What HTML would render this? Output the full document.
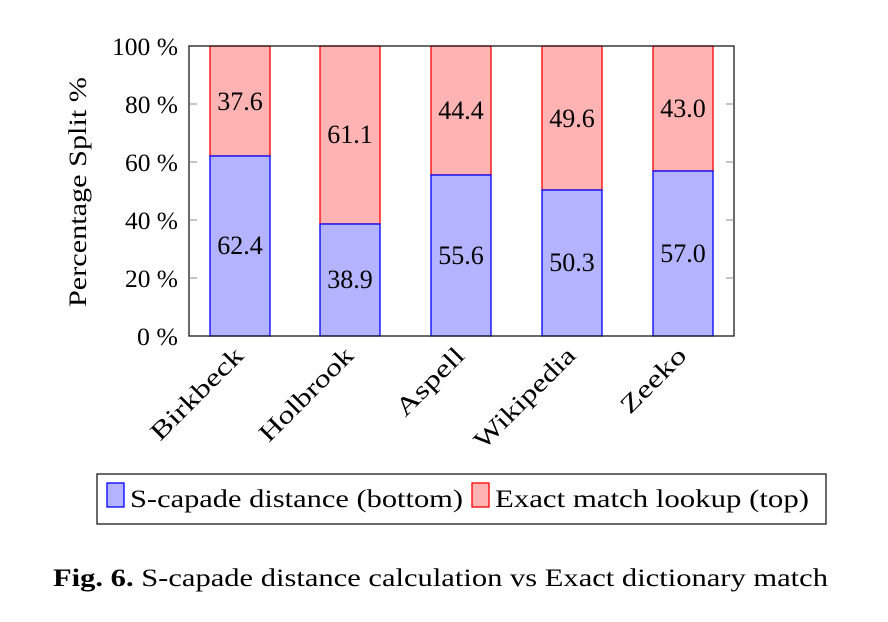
<!DOCTYPE html>
<html><head><style>body{margin:0;background:#fff}svg{display:block}text{font-family:"Liberation Serif",serif;fill:#000}</style></head><body>
<svg width="888" height="622" viewBox="0 0 888 622" xmlns="http://www.w3.org/2000/svg">
<g stroke-width="1.3">
<rect x="210" y="46" width="60" height="110" fill="#ffb3b3" stroke="#f00"/>
<rect x="210" y="156" width="60" height="180" fill="#b3b3ff" stroke="#00f"/>
<rect x="320" y="46" width="60" height="178" fill="#ffb3b3" stroke="#f00"/>
<rect x="320" y="224" width="60" height="112" fill="#b3b3ff" stroke="#00f"/>
<rect x="431" y="46" width="60" height="129" fill="#ffb3b3" stroke="#f00"/>
<rect x="431" y="175" width="60" height="161" fill="#b3b3ff" stroke="#00f"/>
<rect x="542" y="46" width="60" height="144" fill="#ffb3b3" stroke="#f00"/>
<rect x="542" y="190" width="60" height="146" fill="#b3b3ff" stroke="#00f"/>
<rect x="653" y="46" width="60" height="125" fill="#ffb3b3" stroke="#f00"/>
<rect x="653" y="171" width="60" height="165" fill="#b3b3ff" stroke="#00f"/>
</g>
<rect x="189" y="46" width="545" height="290" fill="none" stroke="#1a1a1a" stroke-width="1.3"/>
<g stroke="#888" stroke-width="1">
<line x1="189" y1="104" x2="197" y2="104"/><line x1="189" y1="162" x2="197" y2="162"/><line x1="189" y1="220" x2="197" y2="220"/><line x1="189" y1="278" x2="197" y2="278"/>
<line x1="726" y1="104" x2="734" y2="104"/><line x1="726" y1="162" x2="734" y2="162"/><line x1="726" y1="220" x2="734" y2="220"/><line x1="726" y1="278" x2="734" y2="278"/>
</g>
<g font-size="25" text-anchor="end">
<text x="178" y="55" textLength="66" lengthAdjust="spacingAndGlyphs">100 %</text><text x="178" y="113" textLength="53" lengthAdjust="spacingAndGlyphs">80 %</text><text x="178" y="171" textLength="53" lengthAdjust="spacingAndGlyphs">60 %</text><text x="178" y="229" textLength="53" lengthAdjust="spacingAndGlyphs">40 %</text><text x="178" y="287" textLength="53" lengthAdjust="spacingAndGlyphs">20 %</text><text x="178" y="345" textLength="41" lengthAdjust="spacingAndGlyphs">0 %</text>
</g>
<text transform="translate(86,192) rotate(-90)" font-size="25" text-anchor="middle" textLength="230" lengthAdjust="spacingAndGlyphs">Percentage Split %</text>
<g font-size="26" text-anchor="middle">
<text x="240" y="110">37.6</text><text x="240" y="254">62.4</text>
<text x="350" y="143">61.1</text><text x="350" y="288">38.9</text>
<text x="461" y="119">44.4</text><text x="461" y="264">55.6</text>
<text x="572" y="127">49.6</text><text x="572" y="271">50.3</text>
<text x="683" y="117">43.0</text><text x="683" y="262">57.0</text>
</g>
<g font-size="25" text-anchor="end">
<text transform="translate(245,357) rotate(-45)" textLength="120" lengthAdjust="spacingAndGlyphs">Birkbeck</text>
<text transform="translate(355,357) rotate(-45)" textLength="122" lengthAdjust="spacingAndGlyphs">Holbrook</text>
<text transform="translate(466,357) rotate(-45)" textLength="86" lengthAdjust="spacingAndGlyphs">Aspell</text>
<text transform="translate(577,357) rotate(-45)" textLength="132" lengthAdjust="spacingAndGlyphs">Wikipedia</text>
<text transform="translate(688,357) rotate(-45)" textLength="82" lengthAdjust="spacingAndGlyphs">Zeeko</text>
</g>
<rect x="97" y="474" width="729" height="50" fill="none" stroke="#1a1a1a" stroke-width="1.3"/>
<rect x="107" y="483" width="17" height="24" fill="#b3b3ff" stroke="#00f" stroke-width="1.3"/>
<text x="130" y="507" font-size="25" textLength="333" lengthAdjust="spacingAndGlyphs">S-capade distance (bottom)</text>
<rect x="472" y="483" width="17" height="24" fill="#ffb3b3" stroke="#f00" stroke-width="1.3"/>
<text x="495" y="507" font-size="25" textLength="314" lengthAdjust="spacingAndGlyphs">Exact match lookup (top)</text>
<text x="53" y="586" font-size="25" textLength="775" lengthAdjust="spacingAndGlyphs"><tspan font-weight="bold">Fig. 6.</tspan> S-capade distance calculation vs Exact dictionary match</text>
</svg>
</body></html>
